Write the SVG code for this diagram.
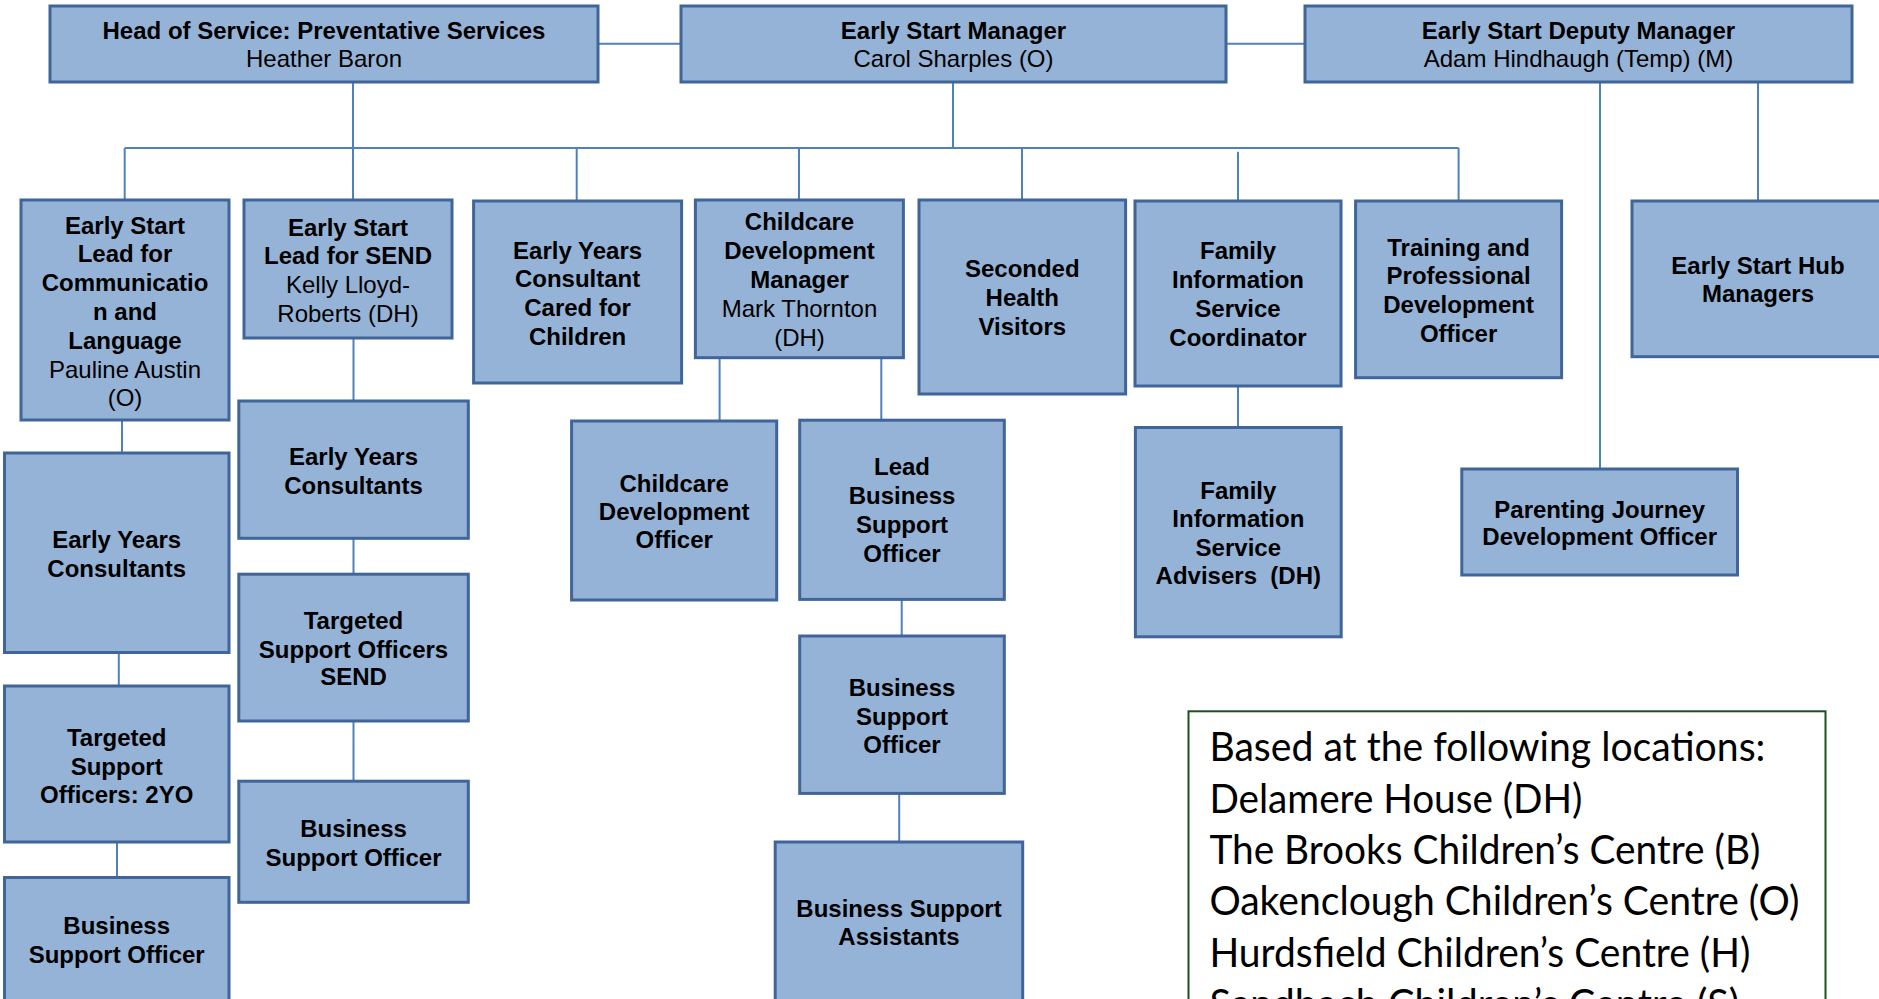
<svg xmlns="http://www.w3.org/2000/svg" width="1879" height="999" viewBox="0 0 1879 999">
<style>
.box{fill:#95B3D7;stroke:#3F6599;stroke-width:3}
.t{font-family:"Liberation Sans",Arial,sans-serif;font-size:24px;fill:#000;text-anchor:middle}
.b{font-weight:bold}
.c{fill:none;stroke:#4F81BD;stroke-width:2}
.leg{fill:#fff;stroke:#1E4F1E;stroke-width:2}
.lt{font-family:Lato,"Open Sans",sans-serif;font-size:40px;fill:#000}
</style>
<rect width="1879" height="999" fill="#fff"/>
<g id="connectors">
<path class="c" d="M598 43.7H681M1226 43.7H1305M353 82V200M953 82V148M124.7 148H1458.6M124.7 148V200M576.7 148V201M799 148V200M1022 148V200M1238 151.7V201M1458.6 148V201M1600 82V469M1758 82V201M122 420V453M118.8 652.5V686M117 842V877.5M353.5 338V401M353.5 538V574M353.5 721V781M719.6 357.7V421M881.3 357.7V420M901.7 599.4V636M899.2 793.4V842M1238 386V427.5"/>
</g>
<g id="head">
<rect class="box" x="50" y="6" width="548" height="76"/>
<text class="t b" x="324" y="39">Head of Service: Preventative Services</text>
<text class="t" x="324" y="67">Heather Baron</text>
</g>
<g id="manager">
<rect class="box" x="681" y="6" width="545" height="76"/>
<text class="t b" x="953.5" y="39">Early Start Manager</text>
<text class="t" x="953.5" y="67">Carol Sharples (O)</text>
</g>
<g id="deputy">
<rect class="box" x="1305" y="6" width="547" height="76"/>
<text class="t b" x="1578.5" y="39">Early Start Deputy Manager</text>
<text class="t" x="1578.5" y="67">Adam Hindhaugh (Temp) (M)</text>
</g>
<g id="lead-cl">
<rect class="box" x="21" y="200" width="208" height="220"/>
<text class="t b" x="125" y="233.6">Early Start</text>
<text class="t b" x="125" y="262.4">Lead for</text>
<text class="t b" x="125" y="291.2">Communicatio</text>
<text class="t b" x="125" y="320">n and</text>
<text class="t b" x="125" y="348.8">Language</text>
<text class="t" x="125" y="377.6">Pauline Austin</text>
<text class="t" x="125" y="406.4">(O)</text>
</g>
<g id="lead-send">
<rect class="box" x="244" y="200" width="208" height="138"/>
<text class="t b" x="348" y="235.5">Early Start</text>
<text class="t b" x="348" y="264.3">Lead for SEND</text>
<text class="t" x="348" y="293.1">Kelly Lloyd-</text>
<text class="t" x="348" y="321.9">Roberts (DH)</text>
</g>
<g id="eyc-cared">
<rect class="box" x="473.6" y="201" width="208" height="182"/>
<text class="t b" x="577.6" y="258.6">Early Years</text>
<text class="t b" x="577.6" y="287.4">Consultant</text>
<text class="t b" x="577.6" y="316.2">Cared for</text>
<text class="t b" x="577.6" y="345">Children</text>
</g>
<g id="cdm">
<rect class="box" x="695.4" y="200" width="208" height="157.7"/>
<text class="t b" x="799.5" y="230.3">Childcare</text>
<text class="t b" x="799.5" y="259.1">Development</text>
<text class="t b" x="799.5" y="287.9">Manager</text>
<text class="t" x="799.5" y="316.7">Mark Thornton</text>
<text class="t" x="799.5" y="345.5">(DH)</text>
</g>
<g id="seconded">
<rect class="box" x="919" y="200" width="206.6" height="194"/>
<text class="t b" x="1022.3" y="277">Seconded</text>
<text class="t b" x="1022.3" y="305.8">Health</text>
<text class="t b" x="1022.3" y="334.6">Visitors</text>
</g>
<g id="fis-coord">
<rect class="box" x="1135" y="201" width="206" height="185"/>
<text class="t b" x="1238" y="259.3">Family</text>
<text class="t b" x="1238" y="288.1">Information</text>
<text class="t b" x="1238" y="316.9">Service</text>
<text class="t b" x="1238" y="345.7">Coordinator</text>
</g>
<g id="training">
<rect class="box" x="1355.6" y="201" width="206" height="176.7"/>
<text class="t b" x="1458.6" y="255.6">Training and</text>
<text class="t b" x="1458.6" y="284.4">Professional</text>
<text class="t b" x="1458.6" y="313.2">Development</text>
<text class="t b" x="1458.6" y="342">Officer</text>
</g>
<g id="hub">
<rect class="box" x="1632" y="201" width="253" height="155.7"/>
<text class="t b" x="1758" y="273.8">Early Start Hub</text>
<text class="t b" x="1758" y="302.4">Managers</text>
</g>
<g id="eyc-left">
<rect class="box" x="4.5" y="453" width="224.5" height="199.5"/>
<text class="t b" x="116.7" y="548">Early Years</text>
<text class="t b" x="116.7" y="576.8">Consultants</text>
</g>
<g id="tso-2yo">
<rect class="box" x="4.5" y="686" width="224.5" height="156"/>
<text class="t b" x="116.7" y="746">Targeted</text>
<text class="t b" x="116.7" y="774.5">Support</text>
<text class="t b" x="116.7" y="803">Officers: 2YO</text>
</g>
<g id="bso-left">
<rect class="box" x="4.5" y="877.5" width="224.5" height="130"/>
<text class="t b" x="116.7" y="933.8">Business</text>
<text class="t b" x="116.7" y="962.5">Support Officer</text>
</g>
<g id="eyc-send">
<rect class="box" x="238.8" y="401" width="229.5" height="137.3"/>
<text class="t b" x="353.5" y="465">Early Years</text>
<text class="t b" x="353.5" y="493.5">Consultants</text>
</g>
<g id="tso-send">
<rect class="box" x="238.8" y="574.2" width="229.5" height="146.8"/>
<text class="t b" x="353.5" y="629">Targeted</text>
<text class="t b" x="353.5" y="657.6">Support Officers</text>
<text class="t b" x="353.5" y="685.2">SEND</text>
</g>
<g id="bso-send">
<rect class="box" x="238.8" y="781.2" width="229.5" height="121.1"/>
<text class="t b" x="353.5" y="837.2">Business</text>
<text class="t b" x="353.5" y="866">Support Officer</text>
</g>
<g id="cdo">
<rect class="box" x="571.6" y="421" width="205.1" height="179"/>
<text class="t b" x="674.2" y="492">Childcare</text>
<text class="t b" x="674.2" y="520.2">Development</text>
<text class="t b" x="674.2" y="548.4">Officer</text>
</g>
<g id="lead-bso">
<rect class="box" x="799.7" y="420.2" width="204.6" height="179.2"/>
<text class="t b" x="902" y="475.4">Lead</text>
<text class="t b" x="902" y="504.4">Business</text>
<text class="t b" x="902" y="533.4">Support</text>
<text class="t b" x="902" y="562.4">Officer</text>
</g>
<g id="bso-mid">
<rect class="box" x="799.7" y="636" width="204.6" height="157.4"/>
<text class="t b" x="902" y="695.8">Business</text>
<text class="t b" x="902" y="724.6">Support</text>
<text class="t b" x="902" y="753.4">Officer</text>
</g>
<g id="bsa">
<rect class="box" x="775.2" y="842" width="247.5" height="165"/>
<text class="t b" x="899" y="916.6">Business Support</text>
<text class="t b" x="899" y="944.5">Assistants</text>
</g>
<g id="fis-advisers">
<rect class="box" x="1135.4" y="427.5" width="205.8" height="209.3"/>
<text class="t b" x="1238.3" y="499.1">Family</text>
<text class="t b" x="1238.3" y="527.4">Information</text>
<text class="t b" x="1238.3" y="555.7">Service</text>
<text class="t b" x="1238.3" y="584" xml:space="preserve">Advisers  (DH)</text>
</g>
<g id="parenting">
<rect class="box" x="1461.8" y="469" width="275.7" height="106"/>
<text class="t b" x="1599.7" y="518.2">Parenting Journey</text>
<text class="t b" x="1599.7" y="545.3">Development Officer</text>
</g>
<g id="legend">
<rect class="leg" x="1188.5" y="711.3" width="637" height="310"/>
<text class="lt" x="1209.4" y="761" textLength="556" lengthAdjust="spacingAndGlyphs">Based at the following locations:</text>
<text class="lt" x="1209.4" y="812.5" textLength="373" lengthAdjust="spacingAndGlyphs">Delamere House (DH)</text>
<text class="lt" x="1209.4" y="864" textLength="551" lengthAdjust="spacingAndGlyphs">The Brooks Children’s Centre (B)</text>
<text class="lt" x="1209.4" y="915" textLength="590" lengthAdjust="spacingAndGlyphs">Oakenclough Children’s Centre (O)</text>
<text class="lt" x="1209.4" y="966.5" textLength="541" lengthAdjust="spacingAndGlyphs">Hurdsfield Children’s Centre (H)</text>
<text class="lt" x="1209.4" y="1018" textLength="530" lengthAdjust="spacingAndGlyphs">Sandbach Children’s Centre (S)</text>
</g>
</svg>
